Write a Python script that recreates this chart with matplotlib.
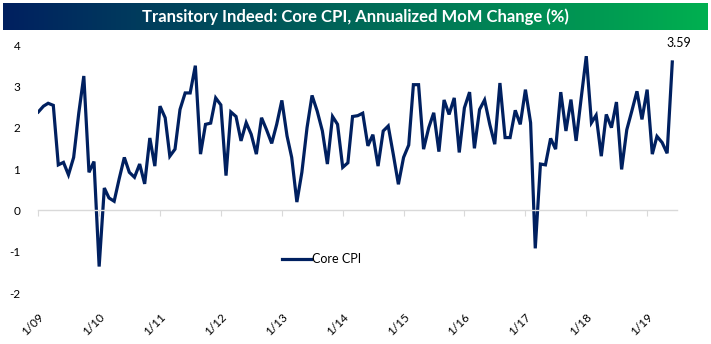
import matplotlib
matplotlib.use("Agg")
import matplotlib.pyplot as plt
from matplotlib.colors import LinearSegmentedColormap
import numpy as np
import pandas as pd

# Core CPI, annualized month-over-month change (%), Jan 2009 - Jun 2019
core_cpi = [
    2.38, 2.52, 2.59, 2.54, 1.10, 1.16, 0.86, 1.28, 2.36, 3.25, 0.92, 1.18,
    -1.36, 0.54, 0.30, 0.22, 0.76, 1.28, 0.92, 0.80, 1.12, 0.64, 1.75, 1.07,
    2.52, 2.24, 1.31, 1.48, 2.44, 2.84, 2.84, 3.50, 1.36, 2.08, 2.11, 2.72,
    2.55, 0.84, 2.38, 2.27, 1.68, 2.12, 1.84, 1.36, 2.24, 1.95, 1.62, 2.08,
    2.66, 1.80, 1.28, 0.20, 0.92, 2.00, 2.78, 2.40, 1.92, 1.12, 2.27, 2.08,
    1.04, 1.15, 2.27, 2.29, 2.35, 1.56, 1.83, 1.07, 1.92, 2.04, 1.34, 0.63,
    1.28, 1.58, 3.04, 3.04, 1.48, 2.00, 2.36, 1.42, 2.67, 2.32, 2.72, 1.40,
    2.48, 2.86, 1.50, 2.44, 2.67, 2.08, 1.60, 3.08, 1.76, 1.76, 2.42, 2.08,
    2.92, 2.12, -0.92, 1.12, 1.10, 1.74, 1.48, 2.86, 1.92, 2.68, 1.68, 2.70,
    3.73, 2.12, 2.30, 1.31, 2.32, 2.00, 2.62, 0.99, 1.95, 2.40, 2.88, 2.20,
    2.92, 1.36, 1.79, 1.64, 1.38, 3.59,
]
dates = pd.date_range("2009-01-01", periods=len(core_cpi), freq="MS")
year_ticks = pd.date_range("2009-01-01", "2019-01-01", freq="YS")
year_labels = [f"{d.month}/{d.strftime('%y')}" for d in year_ticks]
y_ticks = [-2, -1, 0, 1, 2, 3, 4]

NAVY = "#002060"
plt.rcParams["font.family"] = ["Lato", "DejaVu Sans"]

fig = plt.figure(figsize=(7.11, 3.44), dpi=100)

# title banner with navy -> green gradient
bar = fig.add_axes([3 / 711, 1 - 30 / 344, 705 / 711, 27 / 344])
cmap = LinearSegmentedColormap.from_list("banner", [NAVY, "#00B050"])
bar.imshow(np.linspace(0, 1, 256).reshape(1, -1), aspect="auto", cmap=cmap,
           extent=[0, 1, 0, 1])
bar.set_axis_off()
bar.text(0.5, 0.48, "Transitory Indeed: Core CPI, Annualized MoM Change (%)",
         color="white", fontsize=12, fontweight="bold", ha="center", va="center")

ax = fig.add_axes([38.3 / 711, 51 / 344, 639 / 711, 248 / 344])
ax.plot(dates, core_cpi, color=NAVY, lw=2.3, label="Core CPI", solid_joinstyle="miter")
ax.set_xlim(pd.Timestamp("2009-01-01"), pd.Timestamp("2019-07-01"))
ax.set_ylim(-2, 4)
ax.set_yticks(y_ticks)
ax.set_yticklabels([str(v) for v in y_ticks])
ax.tick_params(axis="y", length=0, pad=13, labelsize=8.5)

for side in ["top", "right", "left"]:
    ax.spines[side].set_visible(False)
ax.spines["bottom"].set_position(("data", 0))
ax.spines["bottom"].set_color("#d9d9d9")
ax.spines["bottom"].set_linewidth(1)
ax.set_xticks(year_ticks)
ax.tick_params(axis="x", length=4, color="#d9d9d9", labelbottom=False)

# tick labels sit at the bottom of the plot area
sec = ax.secondary_xaxis(0)
sec.set_xticks(year_ticks)
sec.set_xticklabels(year_labels, rotation=45, ha="right", rotation_mode="anchor")
sec.tick_params(length=0, pad=13, labelsize=8.5)
sec.spines["bottom"].set_visible(False)

last = core_cpi[-1]
ax.annotate(f"{last:.2f}", (dates[-1], last), xytext=(5, 14), textcoords="offset points",
            ha="center", va="center", fontsize=9)

ax.legend(loc="center", bbox_to_anchor=(0.444, 0.137), frameon=False, fontsize=9,
          handlelength=2.3, handletextpad=0.1)

fig.savefig("out.png", dpi=100)
